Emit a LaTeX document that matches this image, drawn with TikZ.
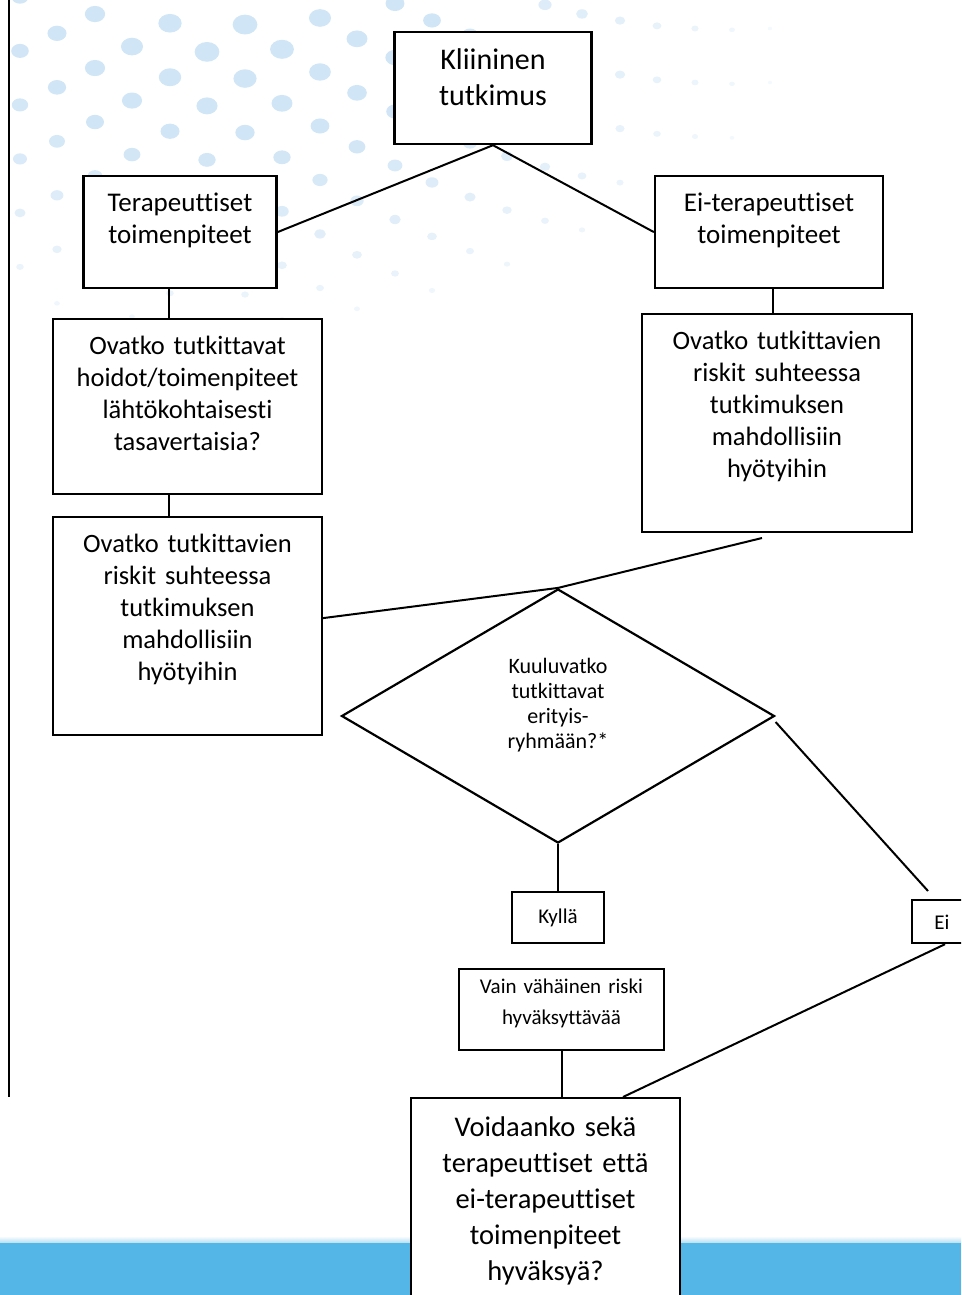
\documentclass[tikz,border=0pt]{standalone}
\usepackage{fontspec}
\setmainfont{Carlito}[Ligatures=CommonOff]
\usetikzlibrary{shapes.geometric}
\definecolor{dotblue}{RGB}{196,222,243}
\definecolor{bandblue}{RGB}{83,182,230}
\tikzset{
  box/.style={draw,line width=2.2pt,fill=white,inner sep=0pt,align=center,anchor=north},
  link/.style={line width=2pt},
}

\begin{document}
\begin{tikzpicture}[x=1pt,y=-1pt]
\clip (0,0) rectangle (961,1295);
% dots in the background
\foreach \j in {0,...,11}{
  \foreach \i in {0,...,11}{
    \pgfmathsetmacro{\dx}{20+75*\i+37*mod(\j,2)}
    \pgfmathsetmacro{\dy}{25+27*\j-(0.0265*(\dx-220))^2}
    \pgfmathsetmacro{\dd}{veclen(\dx-230,1.8*(\dy-40))}
    \pgfmathsetmacro{\dr}{13-\dd/50}
    \pgfmathsetmacro{\op}{0.8*min(1,\dr/9)}
    \ifdim\dr pt>2pt
      \fill[dotblue,opacity=\op] (\dx,\dy) ellipse [x radius=\dr pt,y radius=0.8*\dr pt];
    \fi
  }
}
% band at the bottom
\shade[top color=white,bottom color=bandblue!45] (0,1236) rectangle (961,1243);
\fill[bandblue] (0,1243) rectangle (961,1295);
\draw[line width=2pt] (9,0)--(9,1097);

\node[box,text width=197pt,text height=37pt,text depth=75pt,font=\fontsize{30}{36}\selectfont] (kli) at (493,31) {Kliininen\\tutkimus};
\node[box,text width=193pt,text height=35pt,text depth=77pt,font=\fontsize{27}{32}\selectfont] (tera) at (180,175) {Terapeuttiset\\toimenpiteet};
\node[box,text width=228pt,text height=35pt,text depth=77pt,font=\fontsize{27}{32}\selectfont] (eiT) at (769,175) {Ei-terapeuttiset\\toimenpiteet};
\node[box,text width=269pt,text height=35pt,text depth=140pt,font=\fontsize{26.5}{32}\selectfont] (ovA) at (187.5,318) {Ovatko tutkittavat\\hoidot/toimenpiteet\\lähtökohtaisesti\\tasavertaisia?};
\node[box,text width=269pt,text height=35pt,text depth=183pt,font=\fontsize{26.5}{32}\selectfont] (ovB) at (187.5,516) {Ovatko tutkittavien\\riskit suhteessa\\tutkimuksen\\mahdollisiin\\hyötyihin};
\node[box,text width=270pt,text height=35pt,text depth=183pt,font=\fontsize{26.5}{32}\selectfont] (ovC) at (777,313) {Ovatko tutkittavien\\riskit suhteessa\\tutkimuksen\\mahdollisiin\\hyötyihin};
\node[diamond,draw,line width=2.2pt,fill=white,inner sep=0pt,align=center,minimum width=433pt,minimum height=254pt,text width=120pt,text height=15pt,text depth=101pt,font=\fontsize{22}{25}\selectfont] (kys) at (558,716) {Kuuluvatko\\tutkittavat\\erityis-\\ryhmään?*};
\node[box,text width=92pt,text height=31pt,text depth=20pt,font=\fontsize{21}{32}\selectfont] (kyl) at (558,891) {Kyllä};
\node[box,text width=60pt,text height=29pt,text depth=14pt,font=\fontsize{21}{32}\selectfont] (eiN) at (942,899) {Ei};
\node[box,text width=205pt,text height=24pt,text depth=57pt,font=\fontsize{21}{31}\selectfont] (vain) at (561.5,968) {Vain vähäinen riski\\hyväksyttävää};
\node[box,text width=269pt,text height=38pt,text depth=175pt,font=\fontsize{28.5}{36}\selectfont] (fin) at (545.5,1097) {Voidaanko sekä\\terapeuttiset että\\ei-terapeuttiset\\toimenpiteet\\hyväksyä?};

\coordinate (lx) at (169,0);
\coordinate (rx) at (773,0);
\coordinate (fx) at (623,0);
\coordinate (cEnd) at (762,538);
\coordinate (eiTop) at (928,891);

\draw[link] (kli.south)--(tera.east);
\draw[link] (kli.south)--(eiT.west);
\draw[link] (tera.south -| lx)--(ovA.north -| lx);
\draw[link] (ovA.south -| lx)--(ovB.north -| lx);
\draw[link] (eiT.south -| rx)--(ovC.north -| rx);
\draw[link] ([yshift=8pt]ovB.east)--(kys.north)--(cEnd);
\draw[link] ([yshift=-6pt]kys.east)--(eiTop);
\draw[link] (kys.south)--(kyl.north);
\draw[link] (vain.south)--(vain.south |- fin.north);
\draw[link] ([xshift=3pt]eiN.south)--(fin.north -| fx);
\end{tikzpicture}
\end{document}
